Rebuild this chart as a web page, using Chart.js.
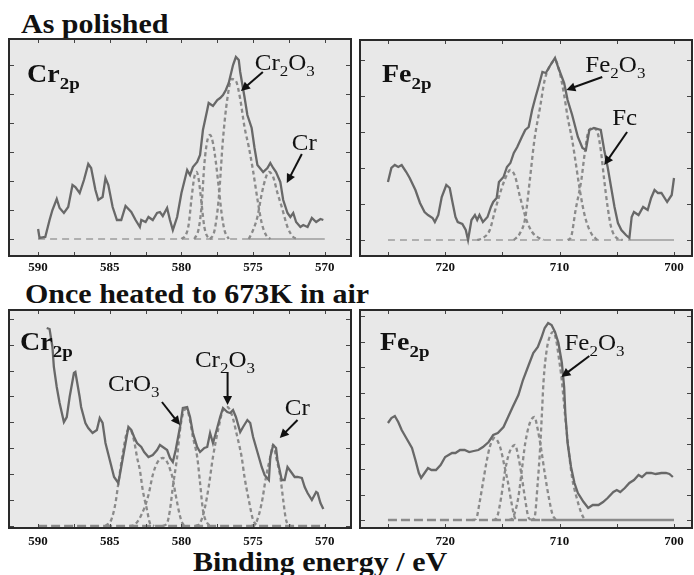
<!DOCTYPE html>
<html>
<head>
<meta charset="utf-8">
<script src="https://cdn.jsdelivr.net/npm/chart.js@4.4.0/dist/chart.umd.min.js"></script>
<style>
  body { margin: 0; background: #fff; width: 694px; height: 575px; position: relative; overflow: hidden; }
  .panel { position: absolute; }
  .title { position: absolute; font: bold 30px "Liberation Serif", serif; line-height: 30px; white-space: nowrap;
           transform: scaleY(0.9); transform-origin: 0 25px; color: #111; }
</style>
</head>
<body>
<div class="title" style="left:21px;top:8px">As polished</div>
<div class="title" style="left:25px;top:278px">Once heated to 673K in air</div>
<div class="title" style="left:193px;top:546px">Binding energy / eV</div>
<div class="panel" style="left:8px;top:38px;width:344px;height:241px"><canvas id="c1"></canvas></div>
<div class="panel" style="left:359px;top:39px;width:334px;height:240px"><canvas id="c2"></canvas></div>
<div class="panel" style="left:8px;top:309px;width:344px;height:242px"><canvas id="c3"></canvas></div>
<div class="panel" style="left:359px;top:309px;width:334px;height:242px"><canvas id="c4"></canvas></div>
<script>
// tick labels / tick positions
const crTickLabels = [590, 585, 580, 575, 570];
const feTickLabels = [720, 710, 700];
const crPolishedYTicks = [0, 29, 58, 87, 116, 145, 174];
const fePolishedYTicks = [0, 36, 72, 108, 144, 180];
const crHeatedYTicks = [0, 26, 52, 78, 104, 130, 155, 181, 207];
const feHeatedYTicks = [0, 25, 51, 76, 102, 127, 153, 178, 204];

// Cr 2p, as polished  [binding energy eV, intensity a.u.]
const crPolished = [[590.0,10],[589.9,1],[589.5,2],[589.2,19],[589.0,29],[588.7,40],[588.5,31],[588.2,26],[587.9,32],[587.6,54],[587.4,52],[587.1,46],[586.8,59],[586.5,75],[586.3,71],[586.0,49],[585.8,39],[585.5,42],[585.3,61],[585.1,54],[584.8,32],[584.5,19],[584.2,19],[583.9,33],[583.5,27],[583.2,19],[582.9,12],[582.8,19],[582.5,17],[582.3,22],[582.0,19],[581.7,26],[581.5,27],[581.3,23],[581.0,31],[580.8,19],[580.6,9],[580.3,22],[580.0,46],[579.6,69],[579.4,64],[579.2,72],[578.9,77],[578.7,84],[578.5,109],[578.2,129],[578.1,136],[577.8,133],[577.5,139],[577.3,141],[577.1,144],[576.9,149],[576.7,156],[576.4,174],[576.2,182],[576.0,179],[575.9,167],[575.6,142],[575.4,124],[575.1,111],[574.9,91],[574.7,74],[574.3,67],[574.0,71],[573.8,76],[573.6,71],[573.4,67],[573.1,57],[572.9,39],[572.6,26],[572.4,22],[572.2,26],[572.0,17],[571.7,12],[571.5,14],[571.2,12],[570.9,21],[570.6,17],[570.3,20],[570.1,19]];
const crPolishedFit1 = [[580.0,0],[579.7,4],[579.5,14],[579.3,40],[579.1,62],[578.95,67],[578.8,60],[578.6,36],[578.4,12],[578.1,1],[577.9,0]];
const crPolishedFit2 = [[579.1,0],[578.8,10],[578.6,32],[578.4,75],[578.2,98],[578.0,104],[577.8,96],[577.6,77],[577.4,52],[577.2,26],[577.0,9],[576.7,0]];
const crPolishedFit3 = [[578.0,0],[577.7,8],[577.4,40],[577.1,100],[576.8,140],[576.5,160],[576.2,158],[575.9,140],[575.6,112],[575.3,92],[575.0,68],[574.7,40],[574.4,16],[574.1,4],[573.8,0]];
const crPolishedFit4 = [[575.3,0],[575.0,9],[574.7,22],[574.4,45],[574.1,62],[573.9,67],[573.6,62],[573.3,46],[573.0,32],[572.6,12],[572.2,2],[571.9,0]];
const crPolishedBaseDash = [[590,0],[575.5,0]];
const crPolishedBaseLine = [[575.5,0],[570,0]];

// Fe 2p, as polished
const fePolished = [[725.0,58],[724.7,72],[724.4,75],[724.1,73],[723.8,75],[723.4,68],[723.1,62],[722.6,50],[722.2,37],[721.8,28],[721.5,25],[721.1,22],[720.9,18],[720.6,25],[720.3,43],[719.9,55],[719.6,52],[719.4,40],[719.1,23],[718.9,18],[718.5,16],[718.2,10],[718.0,0],[717.7,20],[717.4,25],[717.2,20],[717.0,25],[716.7,18],[716.3,23],[716.0,33],[715.8,38],[715.5,42],[715.3,58],[714.9,63],[714.6,73],[714.3,77],[714.0,87],[713.7,93],[713.3,103],[713.0,110],[712.7,113],[712.4,130],[712.1,143],[711.8,155],[711.5,168],[711.2,167],[710.9,173],[710.4,182],[710.1,172],[709.6,157],[709.3,140],[708.9,125],[708.4,103],[708.0,92],[707.7,90],[707.4,110],[707.0,112],[706.4,110],[706.1,90],[705.8,73],[705.5,53],[705.2,33],[704.9,17],[704.6,10],[704.2,5],[703.9,2],[703.7,23],[703.5,28],[703.1,25],[702.7,33],[702.3,30],[702.0,42],[701.7,50],[701.4,47],[701.1,47],[700.6,38],[700.2,45],[700.0,62]];
const fePolishedFit1 = [[717.2,0],[716.7,2],[716.1,10],[715.7,27],[715.3,43],[714.8,60],[714.3,70],[713.9,64],[713.5,45],[713.2,32],[712.9,20],[712.4,8],[711.8,2],[711.4,0]];
const fePolishedFit2 = [[714.0,0],[713.5,6],[713.0,22],[712.6,60],[712.2,100],[711.7,133],[711.3,160],[710.8,175],[710.4,180],[710.0,168],[709.6,145],[709.3,123],[708.9,100],[708.6,78],[708.3,55],[708.0,35],[707.7,20],[707.2,6],[706.7,0]];
const fePolishedFit3 = [[709.3,0],[709.0,3],[708.6,30],[708.1,60],[707.8,87],[707.5,108],[707.1,112],[706.7,108],[706.4,90],[706.1,60],[705.8,33],[705.5,13],[705.1,3],[704.5,0]];
const fePolishedBaseDash = [[725,0],[704,0]];
const fePolishedBaseLine = [[704,0],[700,0]];

// Cr 2p, once heated to 673 K in air
const crHeated = [[589.4,198],[589.2,197],[589.0,179],[588.9,159],[588.7,139],[588.5,123],[588.2,104],[588.0,109],[587.8,129],[587.5,153],[587.4,154],[587.1,129],[587.0,119],[586.7,103],[586.5,98],[586.2,93],[585.9,96],[585.7,108],[585.5,103],[585.3,83],[585.0,66],[584.7,49],[584.4,43],[584.2,59],[583.9,83],[583.7,99],[583.5,96],[583.3,89],[583.1,83],[582.8,79],[582.6,74],[582.3,69],[582.0,71],[581.7,76],[581.5,81],[581.3,79],[581.0,76],[580.8,68],[580.6,64],[580.4,76],[580.1,99],[579.9,118],[579.6,119],[579.4,109],[579.2,93],[578.9,79],[578.7,74],[578.4,78],[578.2,79],[578.0,93],[577.8,83],[577.6,93],[577.3,109],[577.1,118],[576.8,114],[576.6,113],[576.4,116],[576.2,109],[575.9,94],[575.7,99],[575.4,106],[575.2,103],[575.0,89],[574.7,74],[574.4,59],[574.2,51],[573.9,46],[573.8,69],[573.6,81],[573.4,78],[573.3,66],[573.0,46],[572.8,46],[572.6,59],[572.3,53],[572.1,49],[571.9,49],[571.6,48],[571.4,39],[571.2,33],[570.9,26],[570.6,34],[570.5,33],[570.3,23],[570.1,17]];
const crHeatedFit1 = [[585.3,0],[584.9,6],[584.6,23],[584.4,43],[584.1,72],[583.8,94],[583.6,97],[583.3,85],[583.1,69],[582.9,56],[582.7,36],[582.4,16],[582.2,3],[581.9,0]];
const crHeatedFit2 = [[583.6,0],[583.3,1],[582.8,11],[582.3,31],[582.0,51],[581.7,63],[581.3,68],[581.0,64],[580.8,57],[580.6,47],[580.4,31],[580.1,10],[579.9,2],[579.6,0]];
const crHeatedFit3 = [[581.3,0],[581.0,3],[580.8,16],[580.6,39],[580.3,69],[580.1,96],[579.9,112],[579.7,117],[579.5,112],[579.2,89],[578.9,69],[578.7,43],[578.5,16],[578.2,3],[577.9,0]];
const crHeatedFit4 = [[579.0,0],[578.7,3],[578.4,16],[578.1,39],[577.8,69],[577.4,99],[577.1,116],[576.8,119],[576.5,112],[576.1,89],[575.8,69],[575.6,49],[575.3,26],[575.0,6],[574.6,0]];
const crHeatedFit5 = [[575.1,0],[574.8,3],[574.4,23],[574.1,49],[573.8,69],[573.6,81],[573.4,69],[573.1,49],[572.9,26],[572.7,6],[572.4,0]];
const crHeatedBaseDash = [[590,0],[570,0]];

// Fe 2p, once heated to 673 K in air
const feHeated = [[725.0,97],[724.7,102],[724.4,104],[724.1,98],[723.8,90],[723.4,82],[722.9,72],[722.6,60],[722.3,47],[722.1,42],[721.8,47],[721.5,52],[721.2,50],[720.8,50],[720.4,55],[720.0,63],[719.7,65],[719.4,67],[719.1,67],[718.7,70],[718.3,70],[717.9,68],[717.5,69],[717.1,70],[716.7,73],[716.2,78],[715.8,85],[715.4,87],[714.9,93],[714.5,103],[714.1,113],[713.6,125],[713.2,140],[712.7,155],[712.3,167],[711.9,173],[711.6,182],[711.3,192],[711.0,197],[710.7,195],[710.4,188],[710.1,177],[709.8,157],[709.6,133],[709.5,107],[709.3,77],[709.0,53],[708.7,37],[708.4,27],[707.9,18],[707.5,12],[707.1,15],[706.6,15],[706.2,18],[705.8,22],[705.3,28],[705.0,30],[704.7,28],[704.3,32],[703.9,37],[703.5,40],[703.1,45],[702.8,43],[702.4,47],[702.0,47],[701.6,46],[701.1,47],[700.7,47],[700.4,46],[700.1,43]];
const feHeatedFit1 = [[717.6,0],[717.3,1],[717.0,17],[716.7,37],[716.4,57],[716.1,73],[715.7,82],[715.2,73],[714.8,53],[714.5,37],[714.2,17],[713.9,2],[713.6,0]];
const feHeatedFit2 = [[715.8,0],[715.5,2],[715.1,23],[714.8,47],[714.4,67],[713.9,75],[713.6,63],[713.3,43],[713.0,20],[712.7,2],[712.4,0]];
const feHeatedFit3 = [[714.4,0],[714.1,2],[713.6,23],[713.3,50],[713.0,77],[712.6,97],[712.2,103],[711.9,90],[711.6,70],[711.3,47],[710.95,23],[710.6,5],[710.2,0]];
const feHeatedFit4 = [[712.5,0],[712.2,2],[711.9,39],[711.7,72],[711.55,105],[711.4,139],[711.1,172],[710.8,185],[710.55,188],[710.3,180],[710.1,165],[709.8,139],[709.5,102],[709.2,69],[708.9,42],[708.5,22],[708.1,7],[707.8,0]];
const feHeatedBaseDash = [[725,0],[711.6,0]];
const feHeatedBaseLine = [[711.6,0],[700,0]];

const FONT = '"Liberation Serif", "Times New Roman", serif';
const CR2O3 = [['Cr'], ['2', 1], ['O'], ['3', 1]];
const FE2O3 = [['Fe'], ['2', 1], ['O'], ['3', 1]];

function pts(pairs) {
  return pairs.map(p => ({ x: p[0], y: p[1] }));
}

// text with subscripts, squashed a little in height like the scanned figure
function chemText(ctx, parts, x, y, size, bold) {
  ctx.save();
  ctx.translate(x, y);
  ctx.scale(1, 0.9);
  ctx.fillStyle = '#111';
  ctx.textBaseline = 'alphabetic';
  let cx = 0;
  parts.forEach(p => {
    const fs = p[1] ? Math.round(size * 0.68) : size;
    ctx.font = (bold ? 'bold ' : '') + fs + 'px ' + FONT;
    ctx.fillText(p[0], cx, p[1] ? size * 0.28 : 0);
    cx += ctx.measureText(p[0]).width;
  });
  ctx.restore();
}

function arrow(ctx, x1, y1, x2, y2) {
  const ang = Math.atan2(y2 - y1, x2 - x1);
  const hl = 9, hw = 4.5;
  ctx.save();
  ctx.strokeStyle = '#111';
  ctx.fillStyle = '#111';
  ctx.lineWidth = 2;
  ctx.beginPath();
  ctx.moveTo(x1, y1);
  ctx.lineTo(x2 - Math.cos(ang) * hl * 0.8, y2 - Math.sin(ang) * hl * 0.8);
  ctx.stroke();
  ctx.beginPath();
  ctx.moveTo(x2, y2);
  ctx.lineTo(x2 - Math.cos(ang) * hl + Math.sin(ang) * hw, y2 - Math.sin(ang) * hl - Math.cos(ang) * hw);
  ctx.lineTo(x2 - Math.cos(ang) * hl - Math.sin(ang) * hw, y2 - Math.sin(ang) * hl + Math.cos(ang) * hw);
  ctx.closePath();
  ctx.fill();
  ctx.restore();
}

function framePlugin(panel) {
  return {
    id: 'frame',
    beforeDraw(chart) {
      const a = chart.chartArea, ctx = chart.ctx;
      ctx.save();
      ctx.fillStyle = '#e8e8e8';
      ctx.fillRect(a.left, a.top, a.right - a.left, a.bottom - a.top);
      ctx.restore();
    },
    afterDraw(chart) {
      const a = chart.chartArea, ctx = chart.ctx;
      const x = chart.scales.x, y = chart.scales.y;
      ctx.save();
      // inner tick marks on all four sides
      ctx.strokeStyle = '#444';
      ctx.lineWidth = 1;
      ctx.beginPath();
      for (let v = panel.tickFrom; v <= panel.tickTo + 0.01; v += panel.step) {
        const px = Math.round(x.getPixelForValue(v)) + 0.5;
        ctx.moveTo(px, a.top); ctx.lineTo(px, a.top + 5);
        ctx.moveTo(px, a.bottom); ctx.lineTo(px, a.bottom - 5);
      }
      panel.yTicks.forEach(v => {
        const py = Math.round(y.getPixelForValue(v)) + 0.5;
        ctx.moveTo(a.left, py); ctx.lineTo(a.left + 6, py);
        ctx.moveTo(a.right, py); ctx.lineTo(a.right - 6, py);
      });
      ctx.stroke();
      // frame
      ctx.strokeStyle = '#2a2a2a';
      ctx.lineWidth = 2;
      ctx.strokeRect(a.left + 1, a.top + 1, a.right - a.left - 2, a.bottom - a.top - 2);
      ctx.restore();

      chemText(ctx, [[panel.name], ['2p', 1]], a.left + panel.nameAt[0], a.top + panel.nameAt[1], 28, true);
      panel.notes.forEach(n => {
        chemText(ctx, n.parts, x.getPixelForValue(n.at[0]), y.getPixelForValue(n.at[1]), 25, false);
      });
      panel.arrows.forEach(r => {
        arrow(ctx, x.getPixelForValue(r[0][0]), y.getPixelForValue(r[0][1]),
                   x.getPixelForValue(r[1][0]), y.getPixelForValue(r[1][1]));
      });
    }
  };
}

function makePanel(panel) {
  const datasets = [{
    data: pts(panel.curve), borderColor: '#686868', borderWidth: 2.3, tension: 0
  }];
  panel.fits.forEach(f => {
    datasets.push({ data: pts(f), borderColor: '#8a8a8a', borderWidth: 2.3, borderDash: [4, 3],
                    tension: 0.4, cubicInterpolationMode: 'monotone' });
  });
  const thick = panel.thickBase;
  datasets.push({ data: pts(panel.baseDash), borderColor: thick ? '#8a8a8a' : '#777',
                  borderWidth: thick ? 2.5 : 1.2, borderDash: thick ? [9, 4] : [7, 5] });
  if (panel.baseLine) {
    datasets.push({ data: pts(panel.baseLine), borderColor: thick ? '#8a8a8a' : '#777', borderWidth: thick ? 2.5 : 1.2 });
  }
  datasets.forEach(d => { d.pointRadius = 0; d.fill = false; });

  new Chart(document.getElementById(panel.canvas), {
    type: 'line',
    data: { datasets: datasets },
    options: {
      responsive: true,
      maintainAspectRatio: false,
      animation: false,
      layout: { padding: 0 },
      plugins: { legend: { display: false }, tooltip: { enabled: false } },
      scales: {
        x: {
          type: 'linear', reverse: true, min: panel.xMin, max: panel.xMax,
          grid: { display: false, drawTicks: false },
          border: { display: false },
          ticks: {
            stepSize: panel.step, includeBounds: false, autoSkip: false, maxRotation: 0,
            padding: panel.pad, color: '#111',
            font: { family: FONT, weight: 'bold', size: 13 },
            callback: v => panel.labels.includes(v) ? String(v) : ''
          },
          afterFit: s => { s.height = 22; }
        },
        y: { display: false, min: panel.yMin, max: panel.yMax }
      }
    },
    plugins: [framePlugin(panel)]
  });
}

makePanel({
  canvas: 'c1', xMin: 568.1, xMax: 592.1, yMin: -18, yMax: 201, step: 2.5, tickFrom: 570, tickTo: 590,
  labels: crTickLabels, yTicks: crPolishedYTicks, pad: 3,
  curve: crPolished, fits: [crPolishedFit1, crPolishedFit2, crPolishedFit3, crPolishedFit4],
  baseDash: crPolishedBaseDash, baseLine: crPolishedBaseLine, thickBase: false,
  name: 'Cr', nameAt: [19, 44],
  notes: [{ parts: CR2O3, at: [574.88, 169] }, { parts: [['Cr']], at: [572.3, 89] }],
  arrows: [[[574.32, 167], [575.85, 148]], [[571.6, 85], [572.65, 56]]]
});

makePanel({
  canvas: 'c2', xMin: 698.34, xMax: 727.53, yMin: -17, yMax: 201, step: 5, tickFrom: 700, tickTo: 725,
  labels: feTickLabels, yTicks: fePolishedYTicks, pad: 3,
  curve: fePolished, fits: [fePolishedFit1, fePolishedFit2, fePolishedFit3],
  baseDash: fePolishedBaseDash, baseLine: fePolishedBaseLine, thickBase: false,
  name: 'Fe', nameAt: [23, 43],
  notes: [{ parts: FE2O3, at: [707.75, 168] }, { parts: [['Fc']], at: [705.4, 115] }],
  arrows: [[[706.27, 163], [709.41, 150]], [[704.1, 108], [706.1, 75]]]
});

makePanel({
  canvas: 'c3', xMin: 568.1, xMax: 592.1, yMin: -3, yMax: 217, step: 2.5, tickFrom: 570, tickTo: 590,
  labels: crTickLabels, yTicks: crHeatedYTicks, pad: 5,
  curve: crHeated, fits: [crHeatedFit1, crHeatedFit2, crHeatedFit3, crHeatedFit4, crHeatedFit5],
  baseDash: crHeatedBaseDash, baseLine: null, thickBase: true,
  name: 'Cr', nameAt: [12, 41],
  notes: [{ parts: [['CrO'], ['3', 1]], at: [585.12, 135] }, { parts: CR2O3, at: [579.06, 159] }, { parts: [['Cr']], at: [572.79, 111] }],
  arrows: [[[581.36, 124], [580.1, 101]], [[576.78, 154], [576.78, 121]], [[571.9, 106], [573.14, 88]]]
});

makePanel({
  canvas: 'c4', xMin: 698.34, xMax: 727.53, yMin: -9, yMax: 211, step: 5, tickFrom: 700, tickTo: 725,
  labels: feTickLabels, yTicks: feHeatedYTicks, pad: 5,
  curve: feHeated, fits: [feHeatedFit1, feHeatedFit2, feHeatedFit3, feHeatedFit4],
  baseDash: feHeatedBaseDash, baseLine: feHeatedBaseLine, thickBase: true,
  name: 'Fe', nameAt: [21, 41],
  notes: [{ parts: FE2O3, at: [709.58, 170] }],
  arrows: [[[707.4, 164], [709.84, 143]]]
});
</script>
</body>
</html>
